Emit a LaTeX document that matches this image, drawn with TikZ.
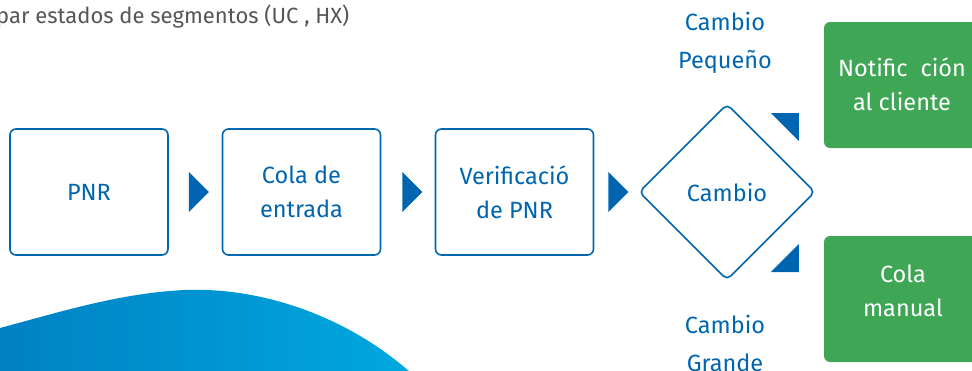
\documentclass[tikz,border=0pt]{standalone}
\usepackage{fontspec}
\setmainfont{Fira Sans}
\usetikzlibrary{shapes.geometric,calc}
\definecolor{eublue}{HTML}{0065B0}
\definecolor{eugreen}{HTML}{3EA655}
\definecolor{wavel}{HTML}{0081C4}
\definecolor{waver}{HTML}{00A8DF}
\definecolor{graytxt}{HTML}{555555}
\begin{document}
\begin{tikzpicture}[x=1pt,y=-1pt,
  stepbox/.style={draw=eublue,line width=1.6pt,rounded corners=6pt,minimum width=158pt,minimum height=126pt,inner sep=0pt,
    text=eublue,font=\fontsize{23.5}{34}\selectfont,align=center},
  greenbox/.style={fill=eugreen,rounded corners=6pt,minimum width=160pt,minimum height=126pt,inner sep=0pt},
  gtext/.style={text=white,font=\fontsize{23.5}{34}\selectfont,align=center},
  btext/.style={text=eublue,font=\fontsize{23.5}{38}\selectfont,align=center},
  tri/.style={fill=eublue}]
\useasboundingbox (0,0) rectangle (972,370);
\begin{scope}
\clip (0,0) rectangle (972,370);
% wave
\shade[left color=wavel,right color=waver]
  (0,328) .. controls (60,312) and (120,293) .. (185,290)
  .. controls (260,287) and (345,315) .. (410,372) -- (0,372) -- cycle;
% green boxes
\node[greenbox] (notif) at (904,85) {};
\node[greenbox] (manual) at (904,299) {};
% title
\node[anchor=west,text=graytxt,font=\fontsize{22}{24}\selectfont,inner sep=0pt] (title) at (-4,17) {par estados de segmentos (UC , HX)};
\end{scope}
\node[gtext] (notiftxt) at (902,84) {Notific\hspace{0.55em}ción\\al cliente};
\node[gtext] (manualtxt) at (903,291) {Cola\\manual};
% boxes
\node[stepbox] (pnr) at (89,192) {PNR};
\node[stepbox] (cola) at (301.5,192) {Cola de\\entrada};
\node[stepbox] (verif) at (514.5,192) {Verificació\\de PNR};
\node[diamond,draw=eublue,line width=1.6pt,rounded corners=5pt,minimum width=176pt,minimum height=176pt,inner sep=0pt,
  text=eublue,font=\fontsize{23.5}{34}\selectfont] (cambio) at (727,192) {Cambio};
% arrow triangles
\fill[tri] ($(pnr.east)+(20,-20)$) -- ($(pnr.east)+(40,0)$) -- ($(pnr.east)+(20,20)$) -- cycle;
\fill[tri] ($(cola.east)+(21,-20)$) -- ($(cola.east)+(41,0)$) -- ($(cola.east)+(21,20)$) -- cycle;
\fill[tri] ($(verif.east)+(14,-20)$) -- ($(verif.east)+(34,0)$) -- ($(verif.east)+(14,20)$) -- cycle;
\fill[tri] ($(notif.west)+(-53,28)$) -- ($(notif.west)+(-25,28)$) -- ($(notif.west)+(-25,56)$) -- cycle;
\fill[tri] ($(manual.west)+(-53,-27)$) -- ($(manual.west)+(-25,-27)$) -- ($(manual.west)+(-25,-55)$) -- cycle;
% labels
\node[btext] (peq) at (725,43) {Cambio\\Pequeño};
\node[btext] (gra) at (725,343) {Cambio\\Grande};
\end{tikzpicture}
\end{document}
